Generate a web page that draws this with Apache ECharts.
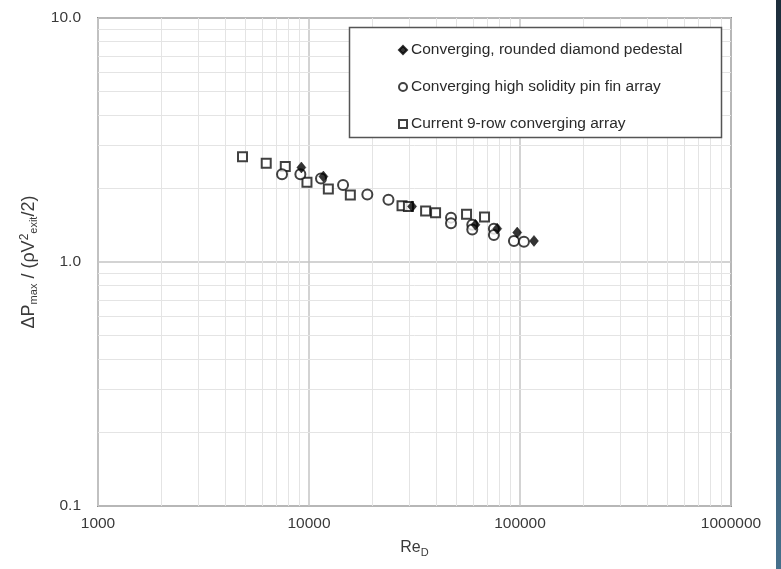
<!DOCTYPE html>
<html>
<head>
<meta charset="utf-8">
<script src="https://cdn.jsdelivr.net/npm/echarts@6/dist/echarts.min.js"></script>
<style>html,body{margin:0;padding:0;background:#fff;}#c{width:781px;height:569px;}</style>
</head>
<body>
<div id="c"></div>
<script>
// ---- data ----
const seriesNames = [
  'Converging, rounded diamond pedestal',
  'Converging high solidity pin fin array',
  'Current 9-row converging array'
];
const diamondRe = [9200, 11700, 30800, 61500, 78000, 97000, 116500];
const diamondDP = [2.44, 2.24, 1.69, 1.42, 1.37, 1.32, 1.22];
const circleRe = [7450, 9100, 11400, 14500, 18900, 23800, 47100, 47100, 59400, 59400, 75200, 75200, 93600, 104400];
const circleDP = [2.29, 2.29, 2.20, 2.07, 1.89, 1.80, 1.52, 1.44, 1.42, 1.36, 1.37, 1.29, 1.22, 1.21];
const squareRe = [4840, 6270, 7720, 9780, 12350, 15700, 27600, 29600, 35700, 39800, 55800, 67900];
const squareDP = [2.70, 2.54, 2.46, 2.12, 1.99, 1.88, 1.70, 1.69, 1.62, 1.59, 1.57, 1.53];
const xTicks = [1000, 10000, 100000, 1000000];
const yTicks = [0.1, 1.0, 10.0];
const xMinor = [2000,3000,4000,5000,6000,7000,8000,9000,20000,30000,40000,50000,60000,70000,80000,90000,200000,300000,400000,500000,600000,700000,800000,900000];
const yMinor = [0.2,0.3,0.4,0.5,0.6,0.7,0.8,0.9,2,3,4,5,6,7,8,9];

const zip = (a, b) => a.map((v, i) => [v, b[i]]);
const FONT = 'Liberation Sans';
const TXT = '#3a3a3a';

const chart = echarts.init(document.getElementById('c'), null, {renderer: 'canvas'});
chart.setOption({
  backgroundColor: '#fff',
  animation: false,
  grid: {left: 98, right: 50, top: 18, bottom: 63, show: true, borderColor: '#8f8f8f', borderWidth: 2, containLabel: false},
  xAxis: {
    type: 'log', logBase: 10, min: xTicks[0], max: xTicks[xTicks.length - 1],
    name: '{a|Re}{sub|D}', nameLocation: 'middle', nameGap: 32,
    nameTextStyle: {rich: {
      a: {fontFamily: FONT, fontSize: 16, color: TXT},
      sub: {fontFamily: FONT, fontSize: 11, color: TXT, verticalAlign: 'bottom', padding: [9, 0, 0, 0]}
    }},
    axisLine: {show: false},
    axisTick: {show: false},
    axisLabel: {fontFamily: FONT, fontSize: 15.5, color: TXT, margin: 10, formatter: v => String(Math.round(v))},
    splitLine: {show: true, lineStyle: {color: '#c4c4c4', width: 1.5}}
  },
  yAxis: {
    type: 'log', logBase: 10, min: yTicks[0], max: yTicks[yTicks.length - 1],
    name: '{a|ΔP}{sub|max}{a| / (ρV}{sup|2}{sub|exit}{a|/2)}', nameLocation: 'middle', nameGap: 47, nameRotate: 90,
    nameTextStyle: {rich: {
      a: {fontFamily: FONT, fontSize: 18, color: TXT},
      sub: {fontFamily: FONT, fontSize: 11, color: TXT, verticalAlign: 'bottom', padding: [10, 0, 0, 0]},
      sup: {fontFamily: FONT, fontSize: 12, color: TXT, verticalAlign: 'top', padding: [0, 0, 8, 0]}
    }},
    axisLine: {show: false},
    axisTick: {show: false},
    axisLabel: {fontFamily: FONT, fontSize: 15.5, color: TXT, margin: 17, formatter: v => Number(v).toFixed(1)},
    splitLine: {show: true, lineStyle: {color: '#c4c4c4', width: 1.5}}
  },
  legend: {
    orient: 'vertical', left: 393, top: 37, itemGap: 21, itemWidth: 8, itemHeight: 8, z: 300,
    textStyle: {fontFamily: FONT, fontSize: 15.5, color: '#2a2a2a', padding: [0, 0, 0, -1]},
    data: seriesNames
  },
  graphic: [
    {type: 'rect', shape: {x: 349.5, y: 27.5, width: 372, height: 110}, style: {fill: '#fff', stroke: '#555', lineWidth: 1.5}, z: 100},
    {type: 'rect', shape: {x: 776, y: 0, width: 5, height: 569}, style: {fill: {type: 'linear', x: 0, y: 0, x2: 0, y2: 1, colorStops: [{offset: 0, color: '#1c2d3b'}, {offset: 1, color: '#46708c'}]}}, z: 100}
  ],
  series: [
    {
      name: '_minor', type: 'scatter', data: [], silent: true, z: 1,
      markLine: {silent: true, symbol: 'none', label: {show: false}, animation: false,
        lineStyle: {color: '#e4e4e4', width: 1, type: 'solid'},
        data: xMinor.map(v => ({xAxis: v})).concat(yMinor.map(v => ({yAxis: v})))}
    },
    {
      name: seriesNames[2], type: 'scatter', data: zip(squareRe, squareDP), symbol: 'rect', symbolSize: 9,
      itemStyle: {color: '#fff', borderColor: '#111', borderWidth: 2}, zlevel: 1, z: 3
    },
    {
      name: seriesNames[1], type: 'scatter', data: zip(circleRe, circleDP), symbol: 'circle', symbolSize: 10,
      itemStyle: {color: '#fff', borderColor: '#111', borderWidth: 2}, zlevel: 1, z: 4
    },
    {
      name: seriesNames[0], type: 'scatter', data: zip(diamondRe, diamondDP), symbol: 'diamond', symbolSize: [9, 11],
      itemStyle: {color: '#000', borderColor: '#000', borderWidth: 0.5}, zlevel: 1, z: 5
    }
  ]
});
</script>
</body>
</html>
